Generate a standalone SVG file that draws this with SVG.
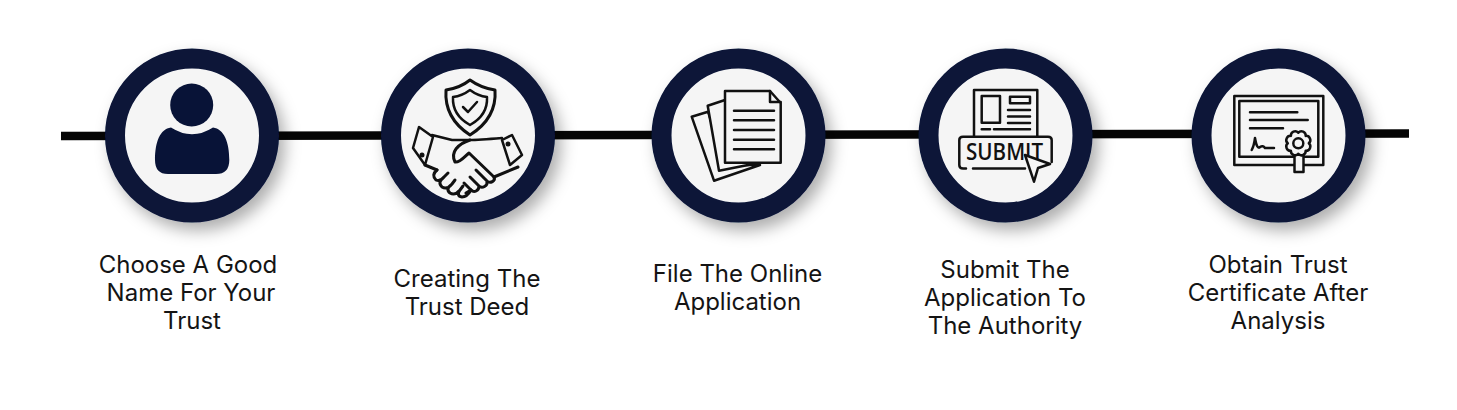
<svg xmlns="http://www.w3.org/2000/svg" width="1457" height="410" viewBox="0 0 1457 410">
<style>
.ring{fill:#f5f5f5;stroke:#081337;stroke-width:20}
.ic{fill:none;stroke:#111;stroke-width:2.5;stroke-linejoin:round;stroke-linecap:round}
.icf{fill:#f5f5f5;stroke:#111;stroke-width:2.5;stroke-linejoin:round;stroke-linecap:round}
.lb{font-family:Inter,"Liberation Sans",sans-serif;font-size:24px;fill:#141414;text-anchor:middle}
.sub{font-family:"Open Sans","Liberation Sans",sans-serif;font-size:23px;font-weight:600;fill:#111}
</style>
<defs>
<filter id="sh" x="-30%" y="-30%" width="170%" height="170%"><feDropShadow dx="6" dy="8" stdDeviation="8" flood-color="#000" flood-opacity="0.32"/></filter>
</defs>
<rect width="1457" height="410" fill="#fff"/>
<g id="connectors">
<path d="M61 136L1409 133.600" fill="none" stroke="#050505" stroke-width="8.500"/>
</g>
<g id="node-1">
<circle class="ring" cx="192" cy="135.500" r="77" filter="url(#sh)"/>
<circle cx="191.700" cy="105" r="21.500" fill="#081337"/>
<path d="M171 127.500Q192 141 213 127.500C224 129 229.300 142 229.300 160Q229.300 174 216 174H168Q155 174 155 160C155 142 160 129 171 127.500Z" fill="#081337"/>
<text class="lb" x="188" y="273">Choose A Good</text>
<text class="lb" x="191" y="301">Name For Your</text>
<text class="lb" x="192" y="329">Trust</text>
</g>
<g id="node-2">
<circle class="ring" cx="468" cy="135.500" r="77" filter="url(#sh)"/>
<path class="ic" style="stroke-width:3" d="M470 80Q481 88 495 90Q497 118 470 135Q444 118 446 90Q460 88 470 80Z"/>
<path class="ic" d="M470 90Q478 96 487 97Q488 115 470 125Q452 115 453 97Q462 96 470 90Z"/>
<path class="ic" d="M463 107L468 112L477 102"/>
<path class="ic" d="M419 127L413 148L425 165L433 137Z"/>
<circle cx="422" cy="155" r="2.500" fill="#111"/>
<path class="ic" d="M502 140L512 135L522 155L510 165Z"/>
<circle cx="508" cy="144" r="2.500" fill="#111"/>
<path class="ic" d="M432 135L452 140H470C478 140 490 139 502 138"/>
<path class="ic" style="stroke-width:3" d="M470 140C458 144 450 152 455 162C460 163 465 156 469 153L494 177C496 181 490 184 487 181L476 170M487 181C488 186 482 189 479 186L470 177M479 186C479 191 474 193 471 190L464 183"/>
<path class="ic" style="stroke-width:3" d="M518 167L494 177M425 165L437 170M471 190L466 193"/>
<path class="ic" style="stroke-width:3" d="M437 170Q431 175 436 180Q440 182 444 177L448 173M444 177Q437 182 442 187Q447 190 452 184L455 180M452 184Q445 189 450 193Q455 196 460 190L463 186M460 190Q456 196 462 197Q467 197 471 190"/>
<text class="lb" x="467" y="287">Creating The</text>
<text class="lb" x="467" y="315">Trust Deed</text>
</g>
<g id="node-3">
<circle class="ring" cx="738.500" cy="135.500" r="77" filter="url(#sh)"/>
<path class="icf" d="M691.700 116.700L708 111.700L725 165L760 165L714 180.700Z"/>
<path class="icf" d="M707.700 105.700L725 100L753 164L719 170.700Z"/>
<path class="icf" d="M725 91H770L780.700 103V162.700H725Z"/>
<path class="ic" d="M770 91V102H780.700"/>
<path class="ic" d="M734 110.700H774M734 120.300H774M734 130H774M734 139.700H774M734 149.300H774"/>
<text class="lb" x="737.500" y="282">File The Online</text>
<text class="lb" x="737.500" y="310">Application</text>
</g>
<g id="node-4">
<circle class="ring" cx="1005.500" cy="135.500" r="77" filter="url(#sh)"/>
<path class="ic" d="M974 136V90H1037.300V136"/>
<rect class="ic" x="981.700" y="96" width="18.300" height="26.700"/>
<rect class="ic" x="1010" y="96.700" width="20" height="6.600"/>
<path class="ic" d="M1008 110H1030M1008 116.500H1030M1008 123H1030M981.700 129.300H990M994 129.300H1030"/>
<path class="ic" d="M1025 168.500H973M966 168.500H963Q959.300 168.500 959.300 165V140Q959.300 136.700 963 136.700H1048Q1051.700 136.700 1051.700 140V162"/>
<text class="sub" x="966" y="160" textLength="77" lengthAdjust="spacingAndGlyphs">SUBMIT</text>
<path class="icf" d="M1025 155L1050 164L1038 168L1034 181.700Z"/>
<text class="lb" x="1005" y="278">Submit The</text>
<text class="lb" x="1005" y="306">Application To</text>
<text class="lb" x="1005" y="334">The Authority</text>
</g>
<g id="node-5">
<circle class="ring" cx="1278.500" cy="135.500" r="77" filter="url(#sh)"/>
<rect class="ic" x="1234.300" y="96" width="89" height="69"/>
<rect class="ic" x="1239.300" y="101" width="79" height="55.700"/>
<path class="ic" d="M1250 112.300H1297.300M1250 120H1307.700M1250 128.300H1283"/>
<path class="ic" d="M1251.700 150Q1254 146 1255 138Q1257 150 1260 147Q1263 145 1265 148H1274"/>
<path class="icf" d="M1294.500 152V172H1303.500V152Z"/>
<path class="icf" d="M1308.800 143.300A4.200 4.200 0 0 1 1305.700 150.700A4.200 4.200 0 0 1 1298.300 153.800A4.200 4.200 0 0 1 1290.900 150.700A4.200 4.200 0 0 1 1287.800 143.300A4.200 4.200 0 0 1 1290.900 135.900A4.200 4.200 0 0 1 1298.300 132.800A4.200 4.200 0 0 1 1305.700 135.900A4.200 4.200 0 0 1 1308.800 143.300Z"/>
<circle class="ic" cx="1298.300" cy="143.300" r="5"/>
<text class="lb" x="1278" y="273">Obtain Trust</text>
<text class="lb" x="1278" y="301">Certificate After</text>
<text class="lb" x="1278" y="329">Analysis</text>
</g>
</svg>
